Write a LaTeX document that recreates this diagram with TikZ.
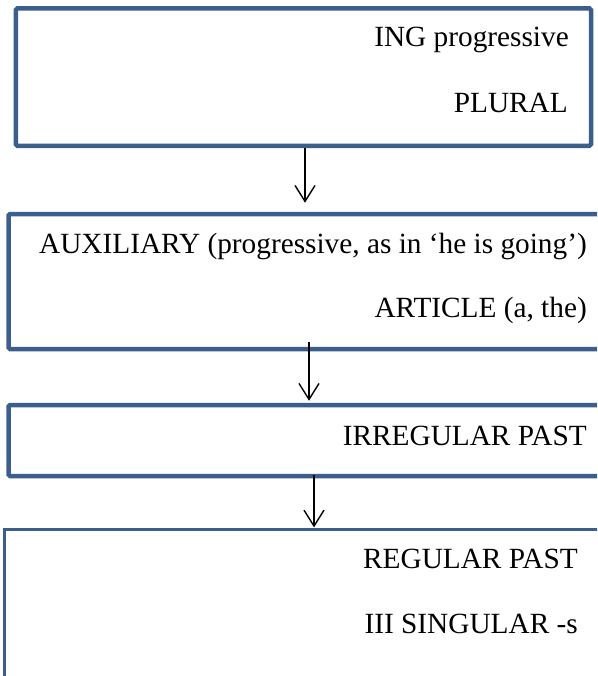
\documentclass[tikz,border=0pt]{standalone}
\usepackage{fontspec}
\setmainfont{Liberation Serif}
\usetikzlibrary{arrows.meta}
\definecolor{boxblue}{HTML}{3B5E8C}
\begin{document}
\begin{tikzpicture}[x=1pt,y=-1pt,
  box/.style={draw=boxblue, line width=4.5pt, rounded corners=1.5pt, rectangle, inner sep=0pt},
  thinbox/.style={draw=boxblue, line width=2.5pt, rectangle, inner sep=0pt},
  lbl/.style={anchor=base east, inner sep=0pt, font=\fontsize{29.3}{34}\selectfont},
  arr/.style={draw=black, line width=1.4pt, -{Straight Barb[length=16pt,width=20pt,line width=1.4pt]}}]
\useasboundingbox (0,0) rectangle (597,676);
\clip (0,0) rectangle (597,676);
\node[box, minimum width=575.2pt, minimum height=137.3pt] (b1) at (303.4,77.15) {};
\node[box, minimum width=611.5pt, minimum height=135pt] (b2) at (314.25,281.5) {};
\node[box, minimum width=611.5pt, minimum height=71pt] (b3) at (314.25,440.5) {};
\node[thinbox, minimum width=615.3pt, minimum height=190.3pt] (b4) at (312.35,624.85) {};
\node[lbl] (t1) at (569,47) {ING progressive};
\node[lbl] (t2) at (568,113) {PLURAL};
\node[lbl] (t3) at (587,253) {AUXILIARY (progressive, as in ‘he is going’)};
\node[lbl] (t4) at (587,317) {ARTICLE (a, the)};
\node[lbl] (t5) at (587,445) {IRREGULAR PAST};
\node[lbl] (t6) at (578,568) {REGULAR PAST};
\node[lbl] (t7) at (578,633) {III SINGULAR -s};
\coordinate (x1) at (305,0);
\coordinate (x2) at (309,0);
\coordinate (x3) at (314,0);
\draw[arr] (b1.south -| x1) -- ([yshift=9pt]b2.north -| x1);
\draw[arr] ([yshift=9pt]b2.south -| x2) -- ([yshift=2pt]b3.north -| x2);
\draw[arr] ([yshift=3pt]b3.south -| x3) -- ([yshift=1pt]b4.north -| x3);
\end{tikzpicture}
\end{document}
